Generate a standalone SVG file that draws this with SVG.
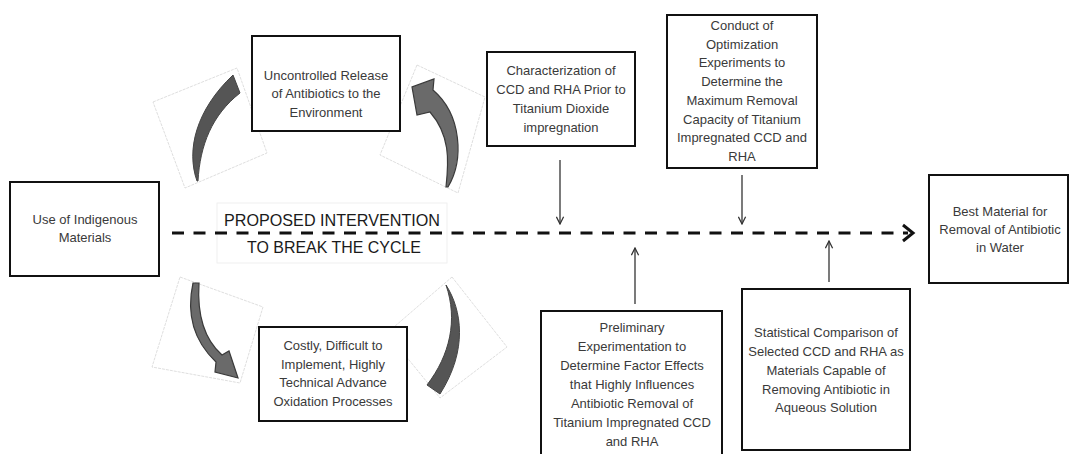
<svg xmlns="http://www.w3.org/2000/svg" width="1070" height="454" viewBox="0 0 1070 454">
<defs>
<style>
.box{fill:#fff;stroke:#111;stroke-width:2}
.t{font-family:"Liberation Sans",Arial,sans-serif;font-size:13px;fill:#3a3a3a;text-anchor:middle}
.big{font-family:"Liberation Sans",Arial,sans-serif;font-size:17px;fill:#1a1a1a;text-anchor:middle}
.frame{fill:#fff;stroke:#d6d6d6;stroke-width:0.8;stroke-dasharray:3 1}
.cres{fill:#555;stroke:#444;stroke-width:1}
.carr{fill:#6a6a6a;stroke:#3a3a3a;stroke-width:1.2}
.thin{stroke:#333;stroke-width:1.3;fill:none}
</style>
<marker id="ah" viewBox="0 0 10 10" refX="9" refY="5" markerWidth="9" markerHeight="9" markerUnits="userSpaceOnUse" orient="auto">
<path d="M1,1 L9,5 L1,9" fill="none" stroke="#333" stroke-width="1.4"/>
</marker>
</defs>
<rect width="1070" height="454" fill="#fff"/>

<g id="cycle-arrows">
<polygon class="frame" points="153,102 237,68 267,153 185,188"/>
<path class="cres" d="M197,181 C186,150 196,110 233,75 L240,93 C212,115 200,145 198,181 Z"/>
<polygon class="frame" points="417,65 485,97 458,193 380,155"/>
<path class="carr" d="M446,187 C449,160 450,135 430,112 L417,115 L412,87 L434,79 L433,90 C462,115 464,160 448,187 Z"/>
<polygon class="frame" points="180,277 263,307 240,383 152,367"/>
<path class="carr" d="M193,283 C185,320 198,345 216,362 L215,372 L238,378 L229,351 L222,355 C205,340 197,315 199,283 Z"/>
<polygon class="frame" points="452,277 507,347 440,398 387,333"/>
<path class="cres" d="M446,285 C462,310 468,350 440,394 L427,385 C450,355 458,320 446,285 Z"/>
</g>

<g id="intervention-label">
<rect x="217" y="203" width="230" height="60" fill="#fff" stroke="#ececec" stroke-width="0.8"/>
<text class="big" x="332" y="226" textLength="216" lengthAdjust="spacingAndGlyphs">PROPOSED INTERVENTION</text>
<text class="big" x="334" y="253" textLength="174" lengthAdjust="spacingAndGlyphs">TO BREAK THE CYCLE</text>
</g>

<g id="connectors">
<line x1="172" y1="233" x2="908" y2="233" stroke="#111" stroke-width="3" stroke-dasharray="12 9.5"/>
<path d="M903,225 L913,233 L903,241" fill="none" stroke="#111" stroke-width="3"/>
<line class="thin" x1="560" y1="160" x2="560" y2="224" marker-end="url(#ah)"/>
<line class="thin" x1="742" y1="175" x2="742" y2="224" marker-end="url(#ah)"/>
<line class="thin" x1="635" y1="304" x2="635" y2="248" marker-end="url(#ah)"/>
<line class="thin" x1="829" y1="282" x2="829" y2="241" marker-end="url(#ah)"/>
</g>

<g id="node-indigenous">
<rect class="box" x="10" y="182" width="149" height="94"/>
<text class="t" x="85" y="224">Use of Indigenous</text>
<text class="t" x="85" y="242">Materials</text>
</g>

<g id="node-uncontrolled">
<rect class="box" x="252" y="36" width="148" height="95"/>
<text class="t" x="326" y="80">Uncontrolled Release</text>
<text class="t" x="326" y="98">of Antibiotics to the</text>
<text class="t" x="326" y="117">Environment</text>
</g>

<g id="node-costly">
<rect class="box" x="259" y="327" width="148" height="94"/>
<text class="t" x="333" y="350">Costly, Difficult to</text>
<text class="t" x="333" y="369">Implement, Highly</text>
<text class="t" x="333" y="387">Technical Advance</text>
<text class="t" x="333" y="406">Oxidation Processes</text>
</g>

<g id="node-characterization">
<rect class="box" x="487" y="52" width="148" height="94"/>
<text class="t" x="561" y="75">Characterization of</text>
<text class="t" x="561" y="94">CCD and RHA Prior to</text>
<text class="t" x="561" y="113">Titanium Dioxide</text>
<text class="t" x="561" y="132">impregnation</text>
</g>

<g id="node-optimization">
<rect class="box" x="667" y="15" width="150" height="153"/>
<text class="t" x="742" y="30">Conduct of</text>
<text class="t" x="742" y="49">Optimization</text>
<text class="t" x="742" y="67">Experiments to</text>
<text class="t" x="742" y="86">Determine the</text>
<text class="t" x="742" y="105">Maximum Removal</text>
<text class="t" x="742" y="124">Capacity of Titanium</text>
<text class="t" x="742" y="142">Impregnated CCD and</text>
<text class="t" x="742" y="161">RHA</text>
</g>

<g id="node-best">
<rect class="box" x="929" y="175" width="139" height="108"/>
<text class="t" x="1000" y="216">Best Material for</text>
<text class="t" x="1000" y="234">Removal of Antibiotic</text>
<text class="t" x="1000" y="252">in Water</text>
</g>

<g id="node-preliminary">
<rect class="box" x="541" y="311" width="181" height="150"/>
<text class="t" x="632" y="332">Preliminary</text>
<text class="t" x="632" y="351">Experimentation to</text>
<text class="t" x="632" y="370">Determine Factor Effects</text>
<text class="t" x="632" y="389">that Highly Influences</text>
<text class="t" x="632" y="408">Antibiotic Removal of</text>
<text class="t" x="632" y="427">Titanium Impregnated CCD</text>
<text class="t" x="632" y="446">and RHA</text>
</g>

<g id="node-statistical">
<rect class="box" x="742" y="289" width="168" height="161"/>
<text class="t" x="826" y="337">Statistical Comparison of</text>
<text class="t" x="826" y="356">Selected CCD and RHA as</text>
<text class="t" x="826" y="375">Materials Capable of</text>
<text class="t" x="826" y="394">Removing Antibiotic in</text>
<text class="t" x="826" y="412">Aqueous Solution</text>
</g>
</svg>
